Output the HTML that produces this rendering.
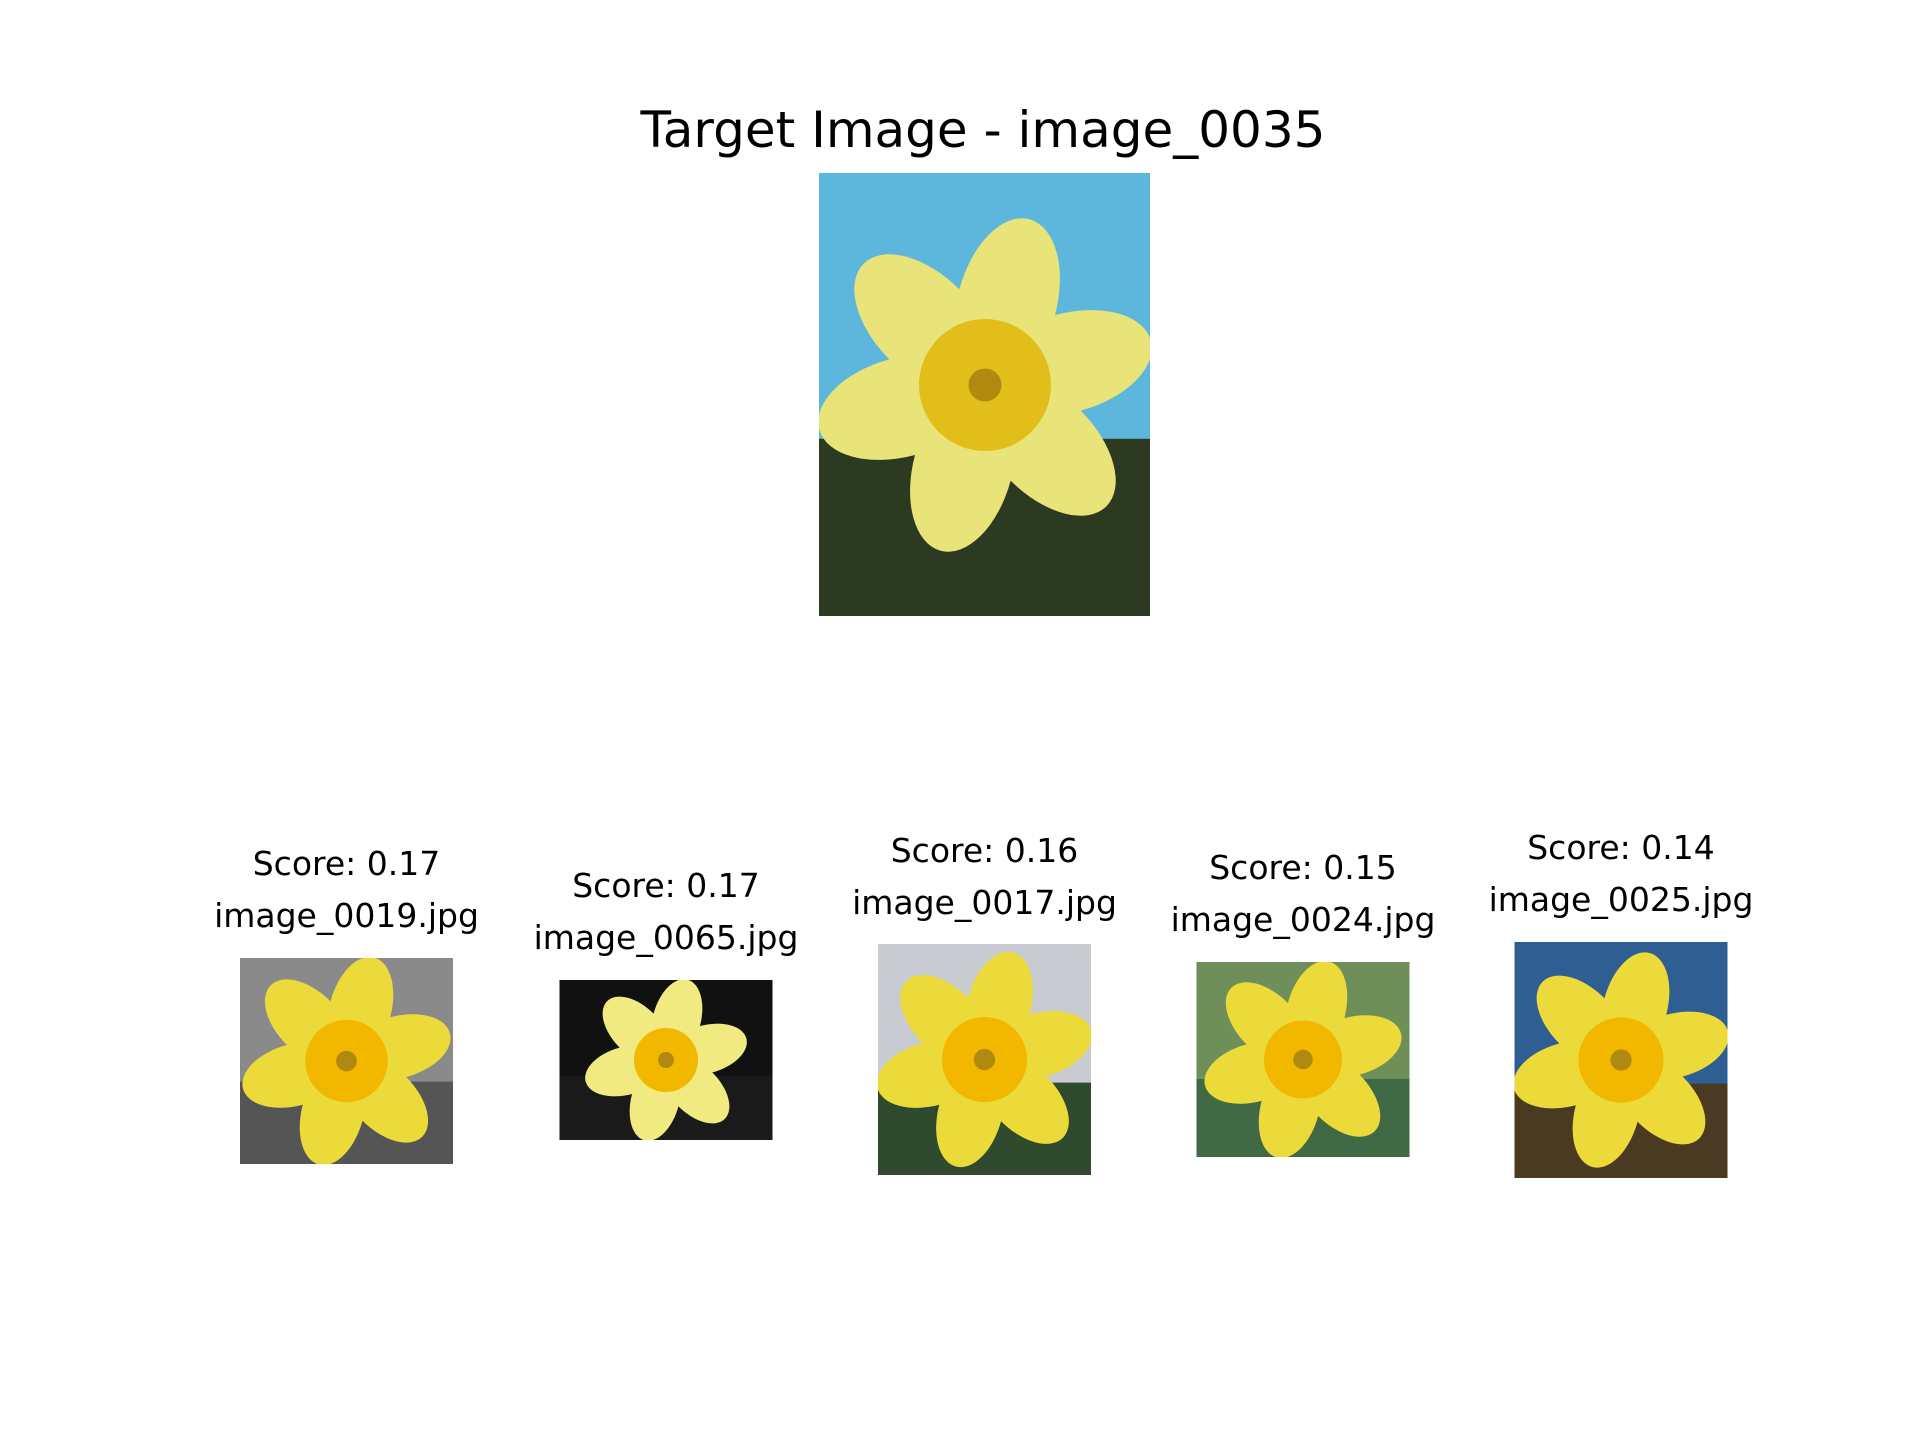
<!DOCTYPE html>
<html><head><meta charset="utf-8"><style>
html,body{margin:0;padding:0;background:#fff;}
svg{display:block;font-family:"DejaVu Sans","Liberation Sans",sans-serif;}
</style></head><body>
<svg id="fig" width="1920" height="1440" viewBox="0 0 1920 1440">
<rect width="1920" height="1440" fill="#fff"/>
<defs id="defs"></defs>
<text x="983" y="147" font-size="50" text-anchor="middle" fill="#000">Target Image - image_0035</text>
<g id="target"></g>
<g id="results"></g>
</svg>
<script>
const scores = [0.17, 0.17, 0.16, 0.15, 0.14];
const names = ["image_0019.jpg", "image_0065.jpg", "image_0017.jpg", "image_0024.jpg", "image_0025.jpg"];
const NS = "http://www.w3.org/2000/svg";
let clipId=0;
function mk(tag, attrs, parent){const e=document.createElementNS(NS,tag);for(const k in attrs)e.setAttribute(k,attrs[k]);parent.appendChild(e);return e;}
function flower(g0,x,y,w,h,bg,bg2,petal,cup,cx,cy,r){
  const id='c'+(clipId++);
  const cp=mk('clipPath',{id:id},document.getElementById('defs'));
  mk('rect',{x:x,y:y,width:w,height:h},cp);
  const g=mk('g',{'clip-path':`url(#${id})`},g0);
  mk('rect',{x:x,y:y,width:w,height:h,fill:bg},g);
  mk('rect',{x:x,y:y+h*0.6,width:w,height:h*0.4,fill:bg2},g);
  for(let i=0;i<6;i++){
    const a=i*60+15;
    mk('ellipse',{cx:cx,cy:cy-r*0.52,rx:r*0.3,ry:r*0.52,fill:petal,transform:`rotate(${a} ${cx} ${cy})`},g);
  }
  mk('circle',{cx:cx,cy:cy,r:r*0.4,fill:cup},g);
  mk('circle',{cx:cx,cy:cy,r:r*0.1,fill:'#b08a10'},g);
}
const tg=document.getElementById('target');
flower(tg,819,173,331,443,'#5db7dc','#2c3a22','#e8e47a','#e2be1a',985,385,165);
const layout=[
 {cx:346.5,y:958,h:206,bg:'#8a8a8a',bg2:'#555',t:863},
 {cx:666,y:980,h:160,bg:'#111',bg2:'#1a1a1a',t:885},
 {cx:984.5,y:944,h:231,bg:'#c9cbd2',bg2:'#2f4a2c',t:850},
 {cx:1303,y:962,h:195,bg:'#6f8f5a',bg2:'#3f6a45',t:867},
 {cx:1621,y:942,h:236,bg:'#2f5f92',bg2:'#4a3a22',t:847}
];
const rg=document.getElementById('results');
scores.forEach((s,i)=>{
  const L=layout[i];
  const g=mk('g',{},rg);
  
  
  const w=213;
  const pet=i===1?'#f0ea80':'#ecd93a';
  flower(g,L.cx-w/2,L.y,w,L.h,L.bg,L.bg2,pet,'#f2b800',L.cx,L.y+L.h/2,Math.min(w,L.h)*0.5);
  const t1=mk('text',{x:L.cx,y:L.t+12,'font-size':33,'text-anchor':'middle',fill:'#000'},g);
  t1.textContent='Score: '+s.toFixed(2);
  
  
  const t2=mk('text',{x:L.cx,y:L.t+64,'font-size':33,'text-anchor':'middle',fill:'#000'},g);
  t2.textContent=names[i];
  
  
});
</script>
</body></html>
